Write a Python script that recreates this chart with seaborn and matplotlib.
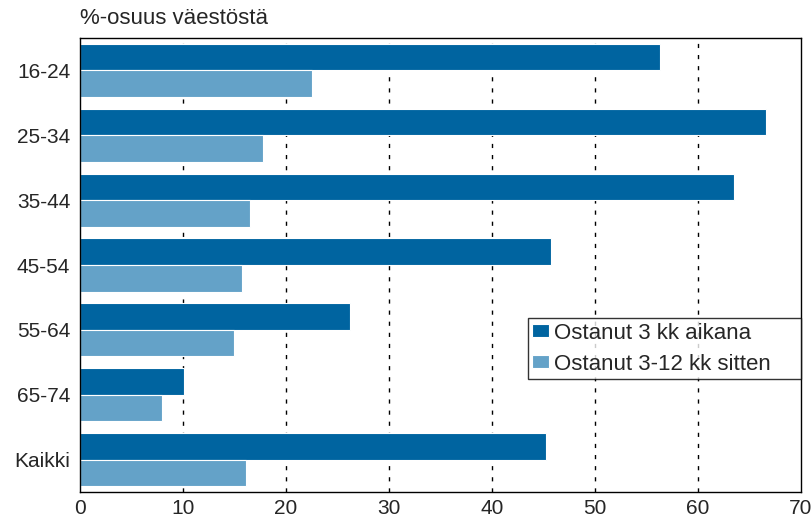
import pandas as pd
import matplotlib
matplotlib.use("Agg")
import matplotlib.pyplot as plt
import seaborn as sns

# Data
age_groups = ["16-24", "25-34", "35-44", "45-54", "55-64", "65-74", "Kaikki"]
bought_3m = [56.3, 66.6, 63.5, 45.7, 26.2, 10.1, 45.2]
bought_3_12m = [22.5, 17.8, 16.5, 15.7, 15.0, 8.0, 16.1]
series_names = ["Ostanut 3 kk aikana", "Ostanut 3-12 kk sitten"]
x_ticks = [0, 10, 20, 30, 40, 50, 60, 70]

df = pd.DataFrame({
    "Ikäryhmä": age_groups * 2,
    "Osuus": bought_3m + bought_3_12m,
    "Sarja": [series_names[0]] * len(age_groups) + [series_names[1]] * len(age_groups),
})

sns.set_style("white")
plt.rcParams["font.family"] = ["Liberation Sans", "DejaVu Sans"]

fig = plt.figure(figsize=(8.11, 5.24), dpi=100)
ax = fig.add_axes([0.0986, 0.061, 0.889, 0.8665])

sns.barplot(data=df, y="Ikäryhmä", x="Osuus", hue="Sarja", orient="h",
            palette=["#0064A0", "#64A2C8"], width=0.82, ax=ax,
            edgecolor="white", linewidth=0.8, saturation=1)

ax.set_xlim(0, 70)
ax.set_xticks(x_ticks)
ax.set_xticklabels([str(t) for t in x_ticks], fontsize=15)
ax.tick_params(axis="y", labelsize=15, length=0, pad=7)
ax.tick_params(axis="x", length=0, pad=5)
ax.set_xlabel("")
ax.set_ylabel("")

# dashed vertical grid lines, drawn below the bars
for t in x_ticks[1:-1]:
    ax.axvline(t, color="black", linestyle=(0, (3, 5)), linewidth=1, zorder=0.5)

for s in ax.spines.values():
    s.set_visible(True)
    s.set_color("black")
    s.set_linewidth(1)

ax.text(0, 1.02, "%-osuus väestöstä", transform=ax.transAxes, fontsize=16,
        ha="left", va="bottom")

leg = ax.legend(loc="upper left", bbox_to_anchor=(0.621, 0.242, 0.379, 0.141),
                mode="expand", borderaxespad=0,
                fontsize=16, frameon=True, fancybox=False, handlelength=0.75,
                handleheight=0.5, handletextpad=0.25, labelspacing=0.45,
                borderpad=0.2)
leg.get_frame().set_edgecolor("black")
leg.get_frame().set_linewidth(1)

fig.savefig("out.png", dpi=100)
